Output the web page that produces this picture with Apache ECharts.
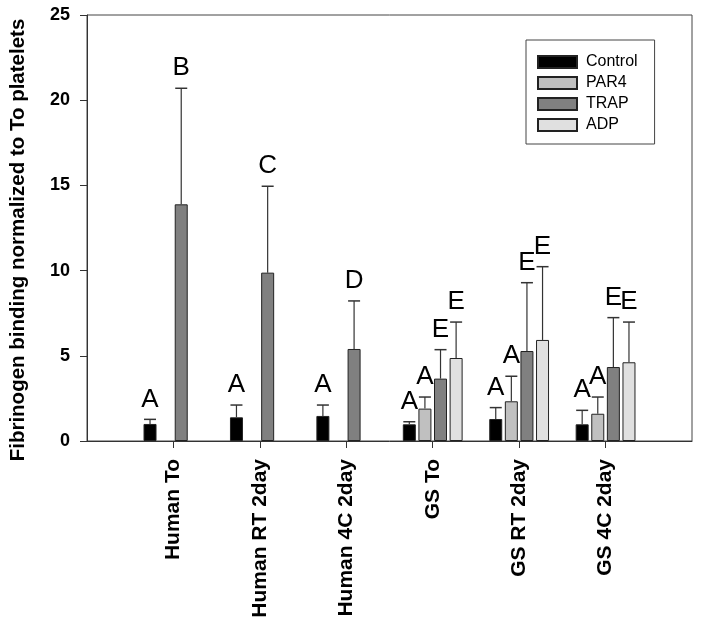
<!DOCTYPE html>
<html>
<head>
<meta charset="utf-8">
<script src="https://cdn.jsdelivr.net/npm/echarts@6/dist/echarts.min.js"></script>
<style>
  html, body { margin: 0; padding: 0; background: #fff; }
  #chart { width: 701px; height: 622px; }
</style>
</head>
<body>
<div id="chart"></div>
<script>
// groups on the x axis (placed at x = 1..6)
const groups = ['Human To', 'Human RT 2day', 'Human 4C 2day', 'GS To', 'GS RT 2day', 'GS 4C 2day']

// means and upper error (SD) per treatment, null = not measured
const controlMean = [1.00, 1.39, 1.47, 0.98, 1.29, 0.98]
const controlErr = [0.27, 0.72, 0.64, 0.15, 0.67, 0.82]
const par4Mean = [null, null, null, 1.90, 2.33, 1.60]
const par4Err = [null, null, null, 0.68, 1.47, 0.98]
const trapMean = [13.89, 9.88, 5.40, 3.66, 5.28, 4.34]
const trapErr = [6.81, 5.07, 2.82, 1.70, 4.01, 2.90]
const adpMean = [null, null, null, 4.87, 5.93, 4.62]
const adpErr = [null, null, null, 2.11, 4.30, 2.36]

// significance letters above the error bars
const controlLetters = ['A', 'A', 'A', 'A', 'A', 'A']
const par4Letters = [null, null, null, 'A', 'A', 'A']
const trapLetters = ['B', 'C', 'D', 'E', 'E', 'E']
const adpLetters = [null, null, null, 'E', 'E', 'E']

const yTicks = [0, 5, 10, 15, 20, 25]

const treatments = [
  { name: 'Control', mean: controlMean, err: controlErr, letters: controlLetters, color: '#000000' },
  { name: 'PAR4', mean: par4Mean, err: par4Err, letters: par4Letters, color: '#c0c0c0' },
  { name: 'TRAP', mean: trapMean, err: trapErr, letters: trapLetters, color: '#808080' },
  { name: 'ADP', mean: adpMean, err: adpErr, letters: adpLetters, color: '#e0e0e0' },
]

const BAR_W = 13
const BAR_GAP = 2.6
const FONT = 'Liberation Sans, Arial, Helvetica, sans-serif'

const chart = echarts.init(document.getElementById('chart'))

const barSeries = treatments.map(t => ({
  name: t.name,
  type: 'bar',
  barWidth: BAR_W,
  barGap: '20%',
  data: t.mean.map((v, i) => [i + 1, v]).filter(d => d[1] != null),
  itemStyle: { color: t.color, borderColor: '#222', borderWidth: 1 },
  z: 2,
}))

const errSeries = treatments.map((t, k) => {
  const rows = []
  const letters = []
  t.mean.forEach((v, i) => {
    if (v == null) return
    rows.push([i + 1, v, v + t.err[i]])
    letters.push(t.letters[i])
  })
  const offset = (k - 1.5) * (BAR_W + BAR_GAP)
  return {
    type: 'custom',
    name: t.name + ' err',
    data: rows,
    encode: { x: 0, y: [1, 2] },
    z: 3,
    renderItem(params, api) {
      const base = api.coord([api.value(0), api.value(1)])
      const top = api.coord([api.value(0), api.value(2)])
      const x = base[0] + offset
      const half = 6
      const children = [
        { type: 'line', shape: { x1: x, y1: base[1], x2: x, y2: top[1] },
          style: { stroke: '#333', lineWidth: 1.2 } },
        { type: 'line', shape: { x1: x - half, y1: top[1], x2: x + half, y2: top[1] },
          style: { stroke: '#333', lineWidth: 1.5 } },
      ]
      const letter = letters[params.dataIndex]
      if (letter) {
        children.push({
          type: 'text',
          x: x, y: top[1] - 7,
          style: { text: letter, fill: '#000', font: '26px ' + FONT, align: 'center', verticalAlign: 'bottom' },
        })
      }
      return { type: 'group', children }
    },
  }
})

chart.setOption({
  animation: false,
  backgroundColor: '#fff',
  grid: {
    left: 85, right: 9, top: 15, bottom: 181,
    show: true, borderColor: '#444', borderWidth: 1,
  },
  legend: {
    data: treatments.map(t => t.name),
    orient: 'vertical',
    left: 526,
    top: 40,
    itemWidth: 39,
    itemHeight: 12,
    itemGap: 5,
    padding: [14, 17, 11, 11],
    borderColor: '#444',
    borderWidth: 1,
    icon: 'rect',
    textStyle: { fontFamily: FONT, fontSize: 16, color: '#000', padding: [0, 0, 0, 4] },
  },
  xAxis: {
    type: 'value',
    min: 0,
    max: 7,
    interval: 1,
    splitLine: { show: false },
    axisLine: { show: true, lineStyle: { color: '#333', width: 1 } },
    axisTick: { show: true, length: 7, customValues: [1, 2, 3, 4, 5, 6], lineStyle: { color: '#333' } },
    axisLabel: {
      customValues: [1, 2, 3, 4, 5, 6],
      rotate: 90,
      margin: 18,
      color: '#000',
      fontFamily: FONT,
      fontWeight: 'bold',
      fontSize: 21,
      formatter: v => groups[v - 1] || '',
    },
  },
  yAxis: {
    type: 'value',
    min: 0,
    max: 25,
    interval: 5,
    name: 'Fibrinogen binding normalized to To platelets',
    nameLocation: 'middle',
    nameGap: 58,
    nameTextStyle: { fontFamily: FONT, fontWeight: 'bold', fontSize: 20.5, color: '#000', padding: [0, 24, 0, 0] },
    splitLine: { show: false },
    axisLine: { show: true, lineStyle: { color: '#333', width: 1 } },
    axisTick: { show: true, length: 7, lineStyle: { color: '#333' } },
    axisLabel: {
      margin: 17,
      color: '#000',
      fontFamily: FONT,
      fontWeight: 'bold',
      fontSize: 18,
      customValues: yTicks,
    },
  },
  series: [...barSeries, ...errSeries],
})
</script>
</body>
</html>
